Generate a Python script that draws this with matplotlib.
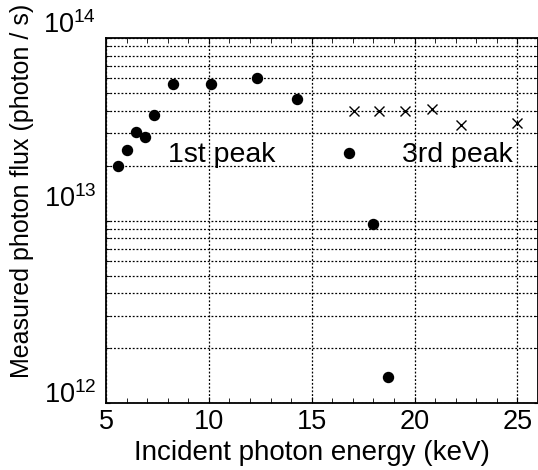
import numpy as np
import matplotlib
matplotlib.use("Agg")
from matplotlib import pyplot as plt
from matplotlib.ticker import MultipleLocator, LogLocator, NullFormatter
import matplotlib.transforms as mtransforms

plt.rcParams['font.family'] = ['Liberation Sans', 'DejaVu Sans']
plt.rcParams['mathtext.default'] = 'regular'

# 1st peak (filled circles)
e_first = [5.60, 6.04, 6.46, 6.90, 7.32, 8.24, 10.09, 12.36, 14.27, 16.83, 17.97, 18.72]
flux_first = [2.0e13, 2.45e13, 3.05e13, 2.87e13, 3.78e13, 5.62e13, 5.62e13, 6.02e13,
              4.65e13, 2.34e13, 9.56e12, 1.39e12]

# 3rd peak (crosses)
e_third = [17.07, 18.29, 19.54, 20.86, 22.26, 25.0]
flux_third = [4.0e13, 4.0e13, 4.0e13, 4.08e13, 3.34e13, 3.41e13]

yticks = [1e12, 1e13, 1e14]
ytick_labels = ['10$^{12}$', '10$^{13}$', '10$^{14}$']
ytick_shift = [0, 14, 5]   # label baselines sit a bit above the tick in the original

fig = plt.figure(figsize=(5.38, 4.70), dpi=100)
ax = fig.add_axes([0.197, 0.1415, 0.803, 0.778])

ax.plot(e_first, flux_first, 'o', color='black', markersize=7.2, linestyle='none')
ax.plot(e_third, flux_third, 'x', color='black', markersize=7.5, markeredgewidth=1.0,
        linestyle='none')

ax.set_yscale('log')
ax.set_xlim(5, 26)
ax.set_ylim(1e12, 1e14)

ax.set_xticks([5, 10, 15, 20, 25])
ax.xaxis.set_minor_locator(MultipleLocator(1))
ax.set_yticks(yticks)
ax.set_yticklabels(ytick_labels)
ax.yaxis.set_minor_locator(LogLocator(base=10, subs=np.arange(2, 10)))
ax.yaxis.set_minor_formatter(NullFormatter())

ax.tick_params(axis='both', which='both', direction='in', top=True, right=True,
               labelsize=19.5, color='black')
ax.tick_params(axis='x', which='major', length=4, pad=4)
ax.tick_params(axis='x', which='minor', length=3.5)
ax.tick_params(axis='y', which='both', length=3, pad=7)

for lab, dy in zip(ax.get_yticklabels(), ytick_shift):
    lab.set_va('baseline')
    lab.set_transform(lab.get_transform() +
                      mtransforms.ScaledTranslation(0, dy / 100.0, fig.dpi_scale_trans))

ax.grid(True, which='major', axis='x', color='black', linestyle=(0, (1.5, 1.5)), linewidth=0.9)
ax.grid(True, which='both', axis='y', color='black', linestyle=(0, (1.5, 1.5)), linewidth=0.9)

for s in ax.spines.values():
    s.set_linewidth(1.3)

ax.text(8.01, 2.09e13, '1st peak', fontsize=20.5, va='baseline', ha='left')
ax.text(19.39, 2.09e13, '3rd peak', fontsize=20.5, va='baseline', ha='left')

fig.text(0.58, 0.0213, 'Incident photon energy (keV)', fontsize=20, ha='center', va='baseline')
fig.text(0.041, 0.594, 'Measured photon flux (photon / s)', fontsize=18, rotation=90,
         ha='center', va='center')

fig.savefig('out.png', dpi=100)
